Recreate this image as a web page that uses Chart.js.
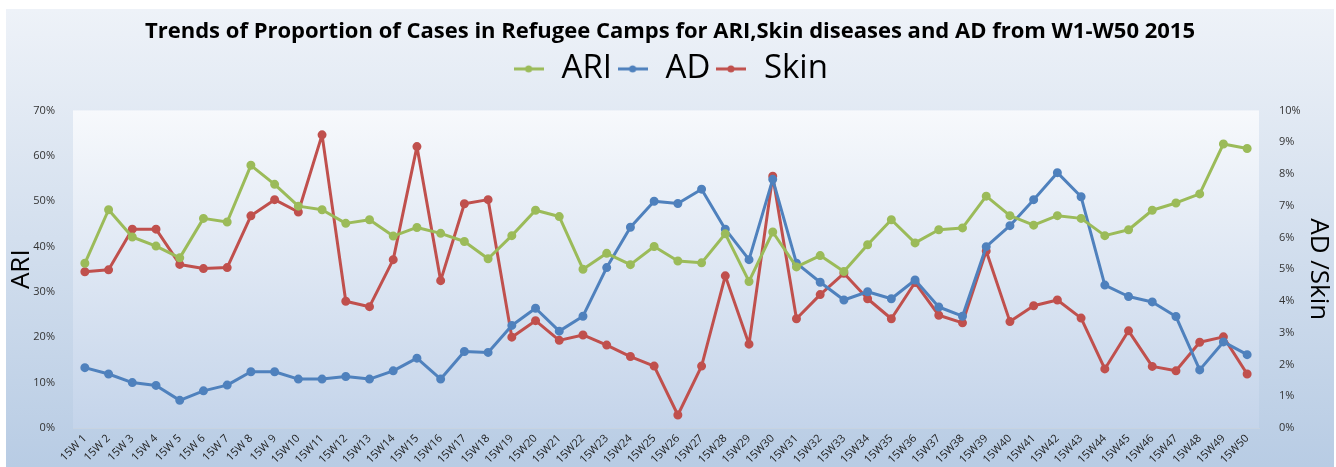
<!DOCTYPE html>
<html>
<head>
<meta charset="utf-8">
<script src="https://cdn.jsdelivr.net/npm/chart.js@4.4.0/dist/chart.umd.min.js"></script>
<style>
  html, body { margin: 0; padding: 0; background: #fff; }
  #wrap { width: 1336px; height: 467px; }
</style>
</head>
<body>
<div id="wrap"><canvas id="trend-chart" width="1336" height="467"></canvas></div>
<script>
// weeks 1..50 of 2015
const weeks = ['15W 1','15W 2','15W 3','15W 4','15W 5','15W 6','15W 7','15W 8','15W 9','15W10',
  '15W11','15W12','15W13','15W14','15W15','15W16','15W17','15W18','15W19','15W20',
  '15W21','15W22','15W23','15W24','15W25','15W26','15W27','15W28','15W29','15W30',
  '15W31','15W32','15W33','15W34','15W35','15W36','15W37','15W38','15W39','15W40',
  '15W41','15W42','15W43','15W44','15W45','15W46','15W47','15W48','15W49','15W50'];

// ARI, % of cases (left axis)
const ari = [36.3, 48.1, 42.1, 40.1, 37.5, 46.2, 45.4, 57.9, 53.7, 48.9,
  48.1, 45.1, 45.9, 42.3, 44.2, 42.9, 41.1, 37.3, 42.4, 48.0,
  46.6, 35.0, 38.5, 36.0, 40.0, 36.8, 36.4, 42.8, 32.3, 43.2,
  35.5, 38.0, 34.5, 40.4, 45.9, 40.8, 43.7, 44.1, 51.1, 46.8,
  44.7, 46.8, 46.2, 42.4, 43.7, 48.0, 49.6, 51.6, 62.6, 61.6];

// AD, % of cases (right axis)
const ad = [1.90, 1.70, 1.43, 1.34, 0.87, 1.17, 1.35, 1.77, 1.77, 1.54,
  1.54, 1.62, 1.54, 1.80, 2.20, 1.54, 2.41, 2.38, 3.23, 3.77,
  3.05, 3.52, 5.05, 6.32, 7.14, 7.07, 7.52, 6.26, 5.30, 7.83,
  5.19, 4.59, 4.03, 4.29, 4.07, 4.66, 3.81, 3.52, 5.71, 6.37,
  7.19, 8.04, 7.28, 4.50, 4.14, 3.97, 3.51, 1.83, 2.71, 2.31];

// Skin diseases, % of cases (right axis)
const skin = [4.92, 4.98, 6.26, 6.26, 5.15, 5.02, 5.05, 6.68, 7.19, 6.80,
  9.23, 3.99, 3.82, 5.30, 8.86, 4.64, 7.06, 7.19, 2.86, 3.38,
  2.76, 2.93, 2.61, 2.25, 1.95, 0.41, 1.95, 4.79, 2.64, 7.93,
  3.44, 4.20, 4.87, 4.07, 3.44, 4.58, 3.55, 3.31, 5.57, 3.35,
  3.85, 4.03, 3.46, 1.86, 3.06, 1.94, 1.80, 2.70, 2.87, 1.70];

const GREEN = '#9bbb59', BLUE = '#4f81bd', RED = '#c0504d';

// little line-with-dot marker for the legend, like excel draws it
function legendMarker(color) {
  const c = document.createElement('canvas');
  c.width = 30; c.height = 10;
  const g = c.getContext('2d');
  g.strokeStyle = color;
  g.lineWidth = 3;
  g.beginPath(); g.moveTo(0, 5); g.lineTo(30, 5); g.stroke();
  g.fillStyle = color;
  g.beginPath(); g.arc(15, 5, 3.5, 0, Math.PI * 2); g.fill();
  return c;
}

// excel-ish gradient backdrop for the whole chart and the plot area
const backdrop = {
  id: 'backdrop',
  beforeInit(chart) {
    // extra room under the legend
    const fit = chart.legend.fit;
    chart.legend.fit = function () { fit.call(this); this.height += 15; };
  },
  beforeDraw(chart) {
    const { ctx, chartArea: a } = chart;
    ctx.save();
    let g = ctx.createLinearGradient(0, 9, 0, 467);
    g.addColorStop(0, '#eef2f8');
    g.addColorStop(1, '#b8cce4');
    ctx.fillStyle = g;
    ctx.fillRect(6, 9, 1328, 458);
    g = ctx.createLinearGradient(0, a.top, 0, a.bottom);
    g.addColorStop(0, '#f7f9fc');
    g.addColorStop(1, '#c4d4ea');
    ctx.fillStyle = g;
    ctx.fillRect(a.left, a.top, a.right - a.left, a.bottom - a.top);
    ctx.restore();
  }
};

function lineSet(label, data, color, axis) {
  return {
    label: label,
    data: data,
    yAxisID: axis,
    borderColor: color,
    backgroundColor: color,
    borderWidth: 3,
    borderJoinStyle: 'round',
    pointRadius: 3,
    pointHoverRadius: 3,
    pointStyle: 'circle',
    tension: 0,
    fill: false
  };
}

const ctx = document.getElementById('trend-chart').getContext('2d');
new Chart(ctx, {
  type: 'line',
  data: {
    labels: weeks,
    datasets: [
      lineSet('ARI', ari, GREEN, 'y'),
      lineSet('AD', ad, BLUE, 'y2'),
      lineSet('Skin', skin, RED, 'y2')
    ]
  },
  plugins: [backdrop],
  options: {
    responsive: false,
    animation: false,
    layout: { padding: { left: 6, right: 2, top: 0, bottom: 0 } },
    plugins: {
      title: {
        display: true,
        text: 'Trends of Proportion of Cases in Refugee Camps for ARI,Skin diseases and AD from W1-W50 2015',
        color: '#000',
        font: { family: 'Open Sans', size: 22, weight: 'bold' },
        padding: { top: 19, bottom: 3 }
      },
      legend: {
        display: true,
        labels: {
          color: '#000',
          font: { family: 'Open Sans', size: 33 },
          usePointStyle: true,
          generateLabels(chart) {
            return chart.data.datasets.map((ds, i) => ({
              text: ds.label,
              pointStyle: legendMarker(ds.borderColor),
              fillStyle: ds.borderColor,
              strokeStyle: ds.borderColor,
              lineWidth: 0,
              hidden: false,
              datasetIndex: i,
              fontColor: '#000'
            }));
          },
          padding: 4
        }
      },
      tooltip: { enabled: false }
    },
    scales: {
      x: {
        offset: true,
        grid: { display: false, drawTicks: true, tickLength: 4, offset: true },
        border: { color: '#c8d3e0' },
        ticks: {
          autoSkip: false,
          maxRotation: 45,
          minRotation: 45,
          color: '#222',
          font: { family: 'Open Sans', size: 11 },
          padding: 0
        },
        afterFit(s) { s.height = 39; }
      },
      y: {
        position: 'left',
        min: 0,
        max: 70,
        grid: { display: false },
        border: { display: false },
        ticks: {
          stepSize: 10,
          color: '#333',
          font: { family: 'Open Sans', size: 11 },
          padding: 10,
          callback: v => v + '%'
        },
        title: { display: true, text: 'ARI', color: '#000', font: { family: 'Open Sans', size: 26 }, padding: 0 },
        afterFit(s) { s.width = 67; }
      },
      y2: {
        position: 'right',
        min: 0,
        max: 10,
        grid: { display: false },
        border: { display: false },
        ticks: {
          stepSize: 1,
          color: '#333',
          font: { family: 'Open Sans', size: 11 },
          padding: 12,
          callback: v => v + '%'
        },
        title: { display: true, text: 'AD /Skin', color: '#000', font: { family: 'Open Sans', size: 26 }, padding: 0 },
        afterFit(s) { s.width = 75; }
      }
    }
  }
});
</script>
</body>
</html>
